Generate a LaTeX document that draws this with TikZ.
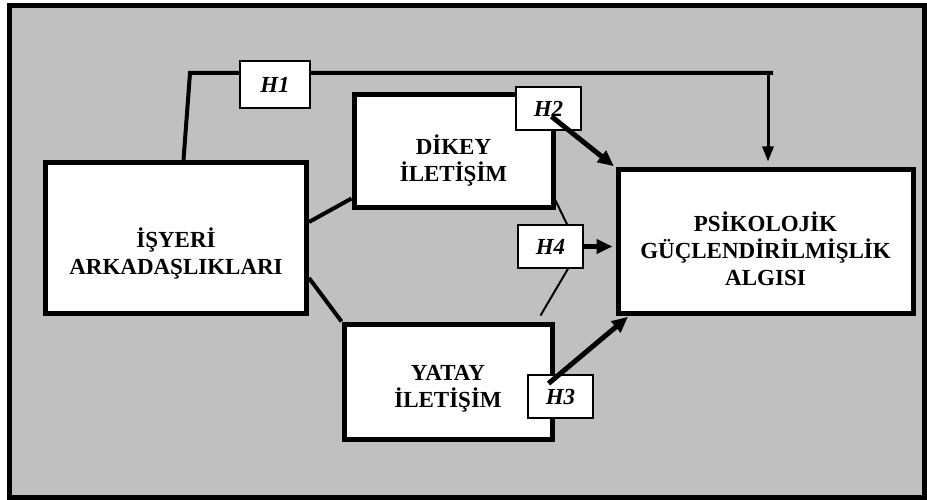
\documentclass[tikz,border=0pt]{standalone}
\usepackage{fontspec}
\setmainfont{Liberation Serif}
\usetikzlibrary{arrows.meta,positioning,backgrounds}
\definecolor{panelgray}{HTML}{C0C0C0}

\begin{document}
\begin{tikzpicture}[x=1pt,y=-1pt,
  mainbox/.style={draw, line width=5pt, fill=white, inner sep=0pt},
  boxtext/.style={font=\fontsize{23}{27}\selectfont\bfseries, align=center},
  hypbox/.style={draw, line width=1.5pt, fill=white, inner sep=0pt, minimum width=65pt, minimum height=43pt,
    font=\fontsize{23}{26}\selectfont\bfseries\itshape},
  link/.style={line width=4pt},
  thinlink/.style={line width=2pt},
  hyparrow/.style={line width=5pt, -{Triangle[length=16pt,width=14pt]}}]
\useasboundingbox (0,0) rectangle (927,500);
\begin{scope}[on background layer]
  \draw[line width=5pt, fill=panelgray] (9,5.5) rectangle (924.5,497.5);
\end{scope}

% boxes
\node[mainbox, minimum width=261pt, minimum height=151pt,
  label={[boxtext,yshift=-15.5pt]center:İŞYERİ\\ARKADAŞLIKLARI}] (isyeri) at (176,238) {};
\node[mainbox, minimum width=199pt, minimum height=113pt,
  label={[boxtext,yshift=-9pt]center:DİKEY\\İLETİŞİM}] (dikey) at (453.5,151.5) {};
\node[mainbox, minimum width=208pt, minimum height=115pt,
  label={[boxtext,yshift=-7.5pt]center:YATAY\\İLETİŞİM}] (yatay) at (448,381.5) {};
\node[mainbox, minimum width=295pt, minimum height=143pt,
  label={[boxtext,yshift=-7.5pt]center:PSİKOLOJİK\\GÜÇLENDİRİLMİŞLİK\\ALGISI}] (psiko) at (765.5,241.5) {};

% hypotheses
\node[hypbox, minimum width=70pt, minimum height=47pt] (h1) at (275,84.5) {H1};
\node[hypbox] (h2) at (548.5,108.5) {H2};
\node[hypbox] (h4) at (550.5,246.5) {H4};
\node[hypbox] (h3) at (560.5,396.5) {H3};

\coordinate (h1turn) at (190,73);
\coordinate (h1end) at (773,73);
\coordinate (h1drop) at (768,73);

\begin{scope}[on background layer]
  \draw[link] ([xshift=140.5pt]isyeri.north west) -- (h1turn) -- (h1end);
  \draw[link] ([yshift=16pt]isyeri.east) -- ([yshift=12pt]dikey.south west);
  \draw[link] ([yshift=-40pt]isyeri.east) -- (yatay.north west);
  \draw[thinlink] ([yshift=10pt]dikey.south east) -- ([xshift=16.5pt]h4.north);
  \draw[thinlink] ([xshift=17.5pt]h4.south) -- ([shift={(-14pt,6pt)}]yatay.north east);
\end{scope}

\draw[line width=3pt, -{Triangle[length=15pt,width=11pt]}, shorten >=6pt] (h1drop) -- (h1drop |- psiko.north);
\draw[hyparrow, shorten >=2pt] ([shift={(3,8)}]h2.center) -- (psiko.north west);
\draw[hyparrow, shorten >=3pt] (h4.east) -- (psiko.west |- h4.east);
\draw[hyparrow, shorten >=2pt] ([shift={(-12,-13)}]h3.center) -- ([xshift=14pt]psiko.south west);
\end{tikzpicture}
\end{document}
